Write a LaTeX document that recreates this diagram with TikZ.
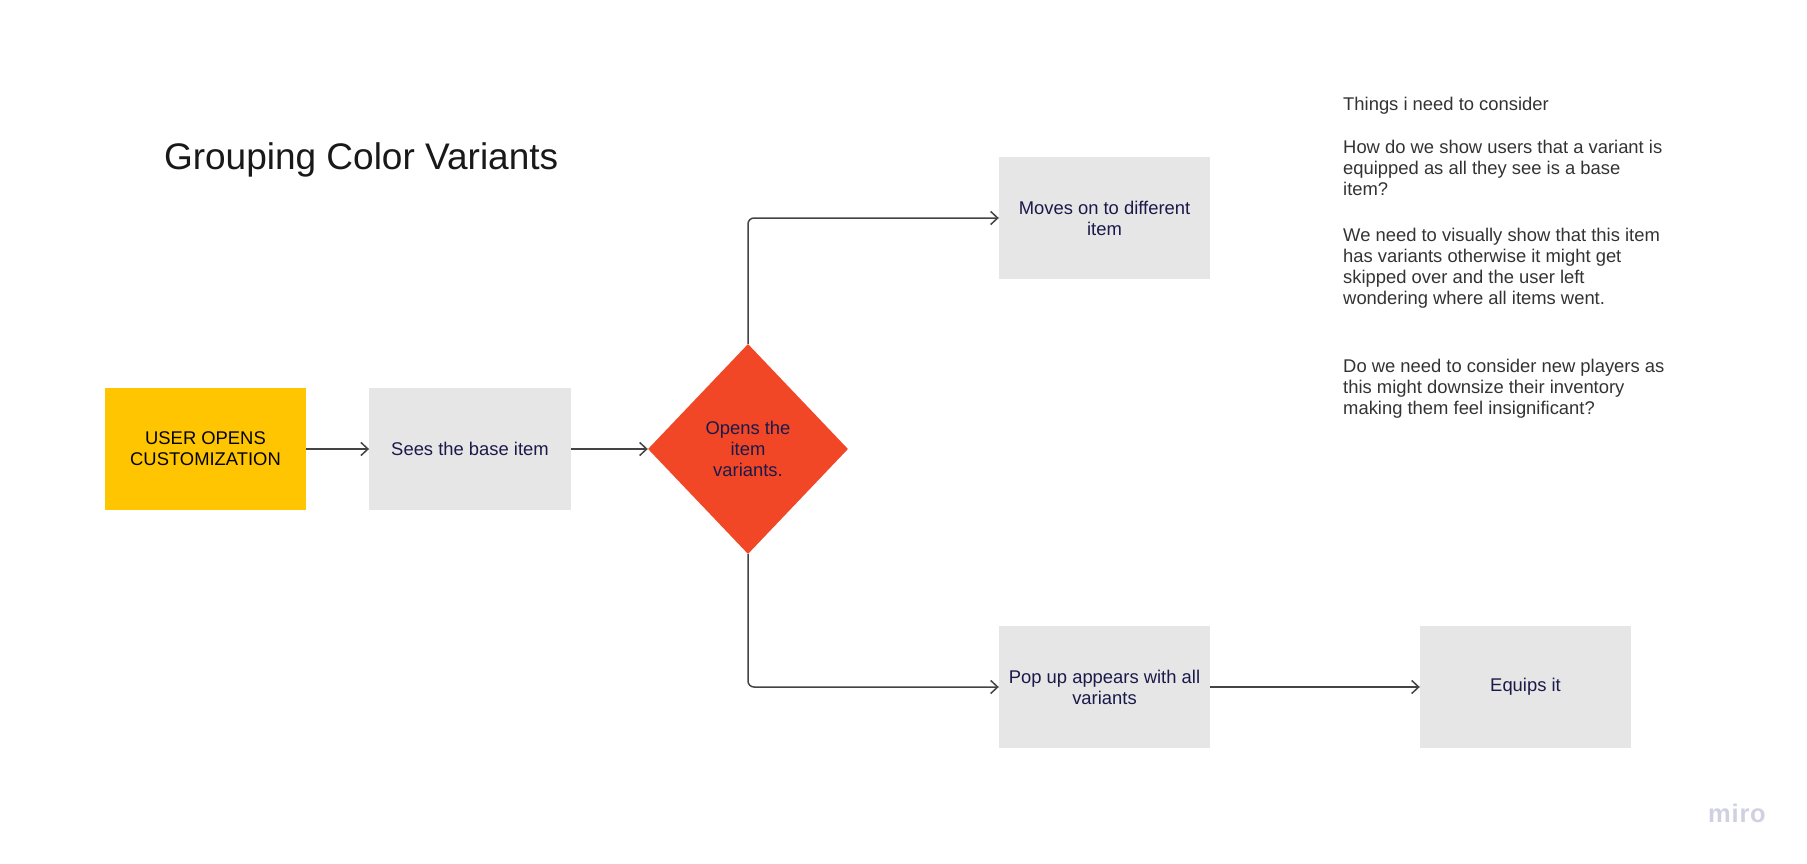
\documentclass[tikz,border=0pt]{standalone}
\usepackage{fontspec}
\setmainfont{Liberation Sans}
\usetikzlibrary{shapes.geometric,arrows.meta}

\definecolor{userfill}{HTML}{FFC500}
\definecolor{stepfill}{HTML}{E6E6E6}
\definecolor{splitfill}{HTML}{F24726}
\definecolor{navytext}{HTML}{1A1A4A}
\definecolor{linegray}{HTML}{444444}
\definecolor{notegray}{HTML}{333333}
\definecolor{logogray}{HTML}{D0D0E0}

\tikzset{
  boxbase/.style={rectangle,inner sep=0pt,align=center,text=navytext,font=\fontsize{18.4}{21}\selectfont},
  stepbox/.style={boxbase,fill=stepfill,minimum width=211pt,minimum height=122pt},
  flow/.style={->,>={Straight Barb[length=7pt,width=13pt]},draw=linegray,line width=1.5pt,rounded corners=6pt}
}

\begin{document}
\begin{tikzpicture}[x=1pt,y=-1pt]
\useasboundingbox (0,0) rectangle (1807,864);

% Title
\node[anchor=west,text=black!90,font=\fontsize{37}{44}\selectfont] (title) at (160.5,159.5) {Grouping Color Variants};

% Main row
\node[boxbase,fill=userfill,text=black!85!navytext,minimum width=201.5pt,minimum height=122pt] (user) at (205.5,449) {USER OPENS\\CUSTOMIZATION};
\node[boxbase,fill=stepfill,minimum width=201.5pt,minimum height=122pt] (base) at (470,449) {Sees the base item};
\node[diamond,aspect=0.95,inner sep=0pt,fill=splitfill,align=center,text=navytext,font=\fontsize{18.4}{21}\selectfont,minimum width=200pt,minimum height=210pt] (opens) at (748,449) {Opens the\\item\\variants.};

% Branches
\node[stepbox] (moves) at (1104.5,218) {Moves on to different\\item};
\node[stepbox] (popup) at (1104.5,687) {Pop up appears with all\\variants};
\node[stepbox] (equips) at (1525.5,687) {Equips it};

% Connectors
\draw[flow] (user) -- (base);
\draw[flow] (base) -- (opens);
\draw[flow] (opens.north) |- (moves.west);
\draw[flow] (opens.south) |- (popup.west);
\draw[flow] (popup) -- (equips);

% Notes
\node[anchor=north west,inner sep=0pt,align=left,text=notegray,font=\fontsize{18.4}{21}\selectfont] (notes) at (1343,97) {Things i need to consider\\[21.7pt]
How do we show users that a variant is\\equipped as all they see is a base\\item?\\[25pt]
We need to visually show that this item\\has variants otherwise it might get\\skipped over and the user left\\wondering where all items went.\\[47pt]
Do we need to consider new players as\\this might downsize their inventory\\making them feel insignificant?};

% Logo
\node[text=logogray,font=\fontsize{25.5}{28}\selectfont\bfseries\addfontfeature{LetterSpace=3}] (logo) at (1737,813) {miro};

\end{tikzpicture}
\end{document}
